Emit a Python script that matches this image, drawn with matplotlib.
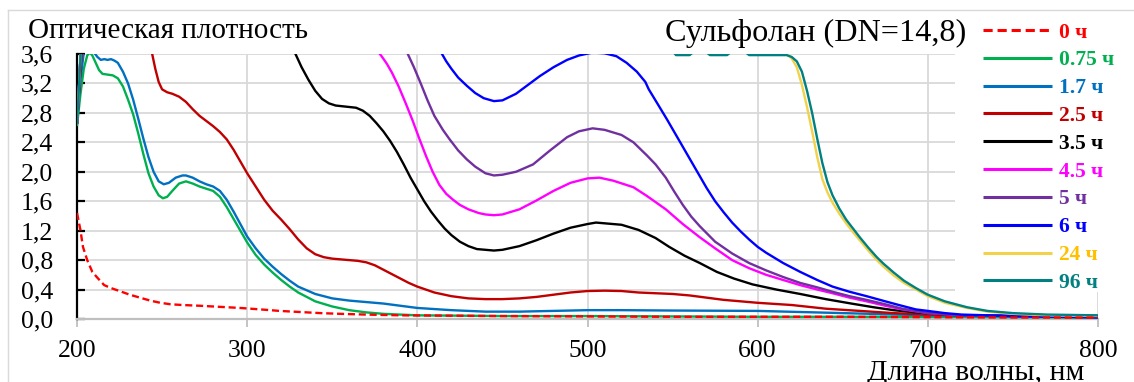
import matplotlib
matplotlib.use("Agg")
import matplotlib.pyplot as plt
from matplotlib.lines import Line2D
from matplotlib.patches import Rectangle

plt.rcParams['font.family'] = ['Liberation Serif', 'DejaVu Serif']

# ---------------- data ----------------
labels = ["0 ч", "0.75 ч", "1.7 ч", "2.5 ч", "3.5 ч", "4.5 ч", "5 ч", "6 ч", "24 ч", "96 ч"]
line_colors = ["#ff0000", "#00b050", "#0070c0", "#c00000", "#000000",
               "#ff00ff", "#7030a0", "#0000ff", "#f2d24a", "#008080"]
text_colors = ["#ff0000", "#00b050", "#0070c0", "#c00000", "#000000",
               "#ff00ff", "#7030a0", "#0000ff", "#ffc000", "#008080"]

x_0h = [200, 202, 203.5, 206, 209, 212, 216, 220, 225, 231, 237, 243, 249, 255, 262, 272,
        284, 296, 308, 319, 331, 343, 355, 370, 390, 420, 450, 500, 550, 600, 650, 700, 750, 800]
y_0h = [1.44, 1.21, 0.98, 0.80, 0.64, 0.56, 0.46, 0.42, 0.38, 0.33, 0.29, 0.25, 0.22, 0.20,
        0.19, 0.18, 0.165, 0.15, 0.13, 0.11, 0.095, 0.08, 0.07, 0.06, 0.05, 0.045, 0.04,
        0.035, 0.03, 0.03, 0.03, 0.025, 0.02, 0.02]

x_075h = [200, 202, 204, 206, 207.5, 209, 211, 213, 215, 218, 221, 224, 227, 230, 233, 236,
          239, 242, 245, 248, 250.5, 253, 256, 260, 264, 268, 272, 276, 280, 284, 288, 292,
          296, 300, 305, 310, 315, 320, 325, 330, 340, 350, 360, 370, 380, 390, 400, 450,
          500, 550, 600, 650, 700, 750, 800]
y_075h = [2.62, 3.05, 3.40, 3.58, 3.62, 3.58, 3.48, 3.38, 3.33, 3.32, 3.31, 3.27, 3.16, 2.98,
          2.78, 2.52, 2.24, 1.98, 1.80, 1.68, 1.64, 1.66, 1.74, 1.84, 1.87, 1.84, 1.80, 1.77,
          1.74, 1.66, 1.52, 1.36, 1.20, 1.04, 0.87, 0.74, 0.63, 0.53, 0.44, 0.36, 0.24, 0.17,
          0.12, 0.09, 0.07, 0.06, 0.05, 0.04, 0.04, 0.035, 0.03, 0.03, 0.03, 0.025, 0.02]

x_17h = [200, 202, 204, 206, 208, 210, 212, 214, 216, 218, 220, 222, 224, 227, 230, 233, 236,
         239, 242, 245, 248, 251, 254, 258, 262, 264, 268, 272, 276, 280, 284, 288, 292, 296,
         300, 305, 310, 315, 320, 325, 330, 340, 350, 360, 370, 380, 390, 400, 420, 440, 460,
         480, 500, 520, 550, 600, 650, 700, 750, 800]
y_17h = [2.65, 3.25, 3.62, 3.75, 3.72, 3.62, 3.56, 3.52, 3.53, 3.52, 3.53, 3.51, 3.48, 3.36,
         3.20, 2.98, 2.72, 2.45, 2.20, 2.00, 1.87, 1.83, 1.85, 1.92, 1.95, 1.95, 1.92, 1.87,
         1.83, 1.80, 1.74, 1.62, 1.46, 1.29, 1.12, 0.96, 0.82, 0.71, 0.61, 0.52, 0.44, 0.34,
         0.28, 0.25, 0.23, 0.21, 0.18, 0.15, 0.12, 0.10, 0.10, 0.11, 0.12, 0.12, 0.115, 0.11,
         0.08, 0.05, 0.045, 0.04]

x_25h = [200, 201, 202, 203, 204, 230, 244, 246, 248, 250, 253, 256, 260, 264, 268, 272, 276,
         280, 284, 288, 292, 296, 300, 305, 310, 315, 320, 325, 330, 335, 340, 345, 350, 355,
         360, 365, 370, 375, 380, 385, 390, 395, 400, 410, 420, 430, 440, 450, 460, 470, 480,
         490, 500, 510, 520, 530, 540, 550, 560, 570, 580, 590, 600, 620, 640, 660, 680, 700,
         720, 750, 800]
y_25h = [2.65, 3.0, 3.35, 3.7, 4.0, 4.3, 3.62, 3.40, 3.22, 3.12, 3.08, 3.06, 3.02, 2.95, 2.85,
         2.76, 2.69, 2.62, 2.54, 2.44, 2.30, 2.14, 1.98, 1.80, 1.62, 1.47, 1.35, 1.22, 1.08,
         0.96, 0.88, 0.84, 0.82, 0.81, 0.80, 0.79, 0.77, 0.73, 0.67, 0.61, 0.55, 0.49, 0.44,
         0.36, 0.31, 0.28, 0.27, 0.27, 0.28, 0.30, 0.33, 0.36, 0.38, 0.385, 0.38, 0.36, 0.35,
         0.34, 0.32, 0.29, 0.26, 0.24, 0.22, 0.19, 0.14, 0.11, 0.08, 0.06, 0.05, 0.04, 0.04]

x_35h = [200, 201.5, 203, 280, 328, 332, 336, 340, 344, 348, 352, 356, 360, 364, 368, 372, 376,
         380, 384, 388, 392, 396, 400, 404, 408, 412, 416, 420, 425, 430, 435, 440, 445, 450,
         460, 470, 480, 490, 500, 505, 510, 520, 530, 540, 548, 557, 566, 576, 586, 597, 611,
         625, 640, 655, 668, 680, 693, 705, 720, 750, 800]
y_35h = [2.65, 3.3, 4.0, 4.5, 3.62, 3.42, 3.25, 3.10, 2.99, 2.93, 2.90, 2.89, 2.88, 2.87, 2.83,
         2.76, 2.66, 2.55, 2.42, 2.27, 2.10, 1.92, 1.76, 1.60, 1.46, 1.34, 1.23, 1.14, 1.05,
         0.99, 0.95, 0.94, 0.93, 0.94, 0.99, 1.07, 1.16, 1.24, 1.29, 1.31, 1.30, 1.28, 1.21,
         1.10, 0.98, 0.86, 0.76, 0.64, 0.55, 0.47, 0.40, 0.34, 0.27, 0.21, 0.16, 0.12, 0.09,
         0.07, 0.05, 0.04, 0.03]

x_45h = [200, 201.5, 203, 300, 376, 379, 382, 385, 389, 393, 397, 401, 405, 409, 413, 417, 421,
         425, 430, 436, 440, 445, 450, 460, 470, 480, 490, 500, 507, 515, 527, 535, 546, 556,
         566, 575, 585, 595, 605, 615, 625, 635, 644, 654, 664, 675, 685, 700, 720, 750, 800]
y_45h = [2.65, 3.3, 4.0, 4.5, 3.66, 3.57, 3.47, 3.35, 3.16, 2.94, 2.71, 2.46, 2.22, 2.00, 1.82,
         1.70, 1.62, 1.55, 1.49, 1.44, 1.42, 1.41, 1.42, 1.49, 1.61, 1.74, 1.85, 1.91, 1.92,
         1.88, 1.79, 1.67, 1.49, 1.29, 1.11, 0.96, 0.80, 0.69, 0.60, 0.53, 0.46, 0.40, 0.35,
         0.29, 0.24, 0.18, 0.13, 0.08, 0.05, 0.04, 0.03]

x_5h = [200, 201.5, 203, 300, 394, 398, 402, 406, 410, 415, 419, 424, 429, 434, 440, 445, 450,
        458, 468, 478, 488, 495, 503, 510, 520, 527, 535, 540, 546, 551, 556, 561, 566, 575,
        585, 595, 605, 615, 625, 635, 644, 654, 664, 675, 685, 700, 720, 750, 800]
y_5h = [2.65, 3.3, 4.0, 4.5, 3.62, 3.42, 3.20, 2.97, 2.76, 2.57, 2.44, 2.29, 2.17, 2.07, 1.98,
        1.95, 1.96, 2.00, 2.10, 2.29, 2.47, 2.55, 2.59, 2.57, 2.50, 2.40, 2.22, 2.10, 1.92,
        1.73, 1.55, 1.39, 1.26, 1.05, 0.89, 0.76, 0.66, 0.57, 0.49, 0.43, 0.37, 0.31, 0.26,
        0.20, 0.14, 0.08, 0.05, 0.04, 0.03]

x_6h = [200, 201.5, 203, 300, 414, 417, 420, 424, 429, 434, 439, 445, 450, 458, 465, 472, 480,
        488, 495, 503, 510, 517, 523, 529, 534, 536, 541, 547, 553, 559, 565, 570, 575, 580,
        585, 590, 595, 600, 605, 610, 615, 625, 635, 644, 654, 664, 675, 683, 693, 700, 710,
        720, 750, 800]
y_6h = [2.65, 3.3, 4.0, 4.6, 3.62, 3.50, 3.40, 3.28, 3.17, 3.07, 3.00, 2.96, 2.97, 3.06, 3.18,
        3.30, 3.42, 3.52, 3.58, 3.62, 3.61, 3.57, 3.48, 3.36, 3.22, 3.12, 2.93, 2.70, 2.46,
        2.22, 1.98, 1.78, 1.60, 1.45, 1.31, 1.19, 1.08, 0.98, 0.90, 0.83, 0.76, 0.64, 0.53,
        0.44, 0.37, 0.31, 0.24, 0.19, 0.13, 0.11, 0.08, 0.06, 0.04, 0.02]

x_24h = [200, 201.5, 203, 400, 600, 612, 617, 620, 623, 626, 629, 632, 635, 638, 641, 644, 648,
         652, 656, 660, 665, 670, 674, 680, 686, 693, 700, 710, 723, 735, 750, 770, 800]
y_24h = [2.65, 3.3, 4.0, 5.0, 4.0, 3.68, 3.60, 3.54, 3.42, 3.18, 2.88, 2.55, 2.20, 1.90, 1.72,
         1.58, 1.43, 1.30, 1.18, 1.07, 0.93, 0.80, 0.71, 0.59, 0.49, 0.40, 0.31, 0.22, 0.15,
         0.10, 0.07, 0.05, 0.04]

x_96h = [200, 201.5, 203, 400, 548, 552, 560, 563, 569, 572, 582, 585, 592, 595, 617, 620, 623,
         626, 629, 632, 635, 638, 641, 644, 648, 652, 656, 660, 665, 670, 674, 680, 686, 693,
         700, 710, 723, 735, 750, 770, 800]
y_96h = [2.65, 3.3, 4.0, 5.0, 3.70, 3.585, 3.585, 3.64, 3.64, 3.585, 3.585, 3.64, 3.64, 3.585,
         3.585, 3.56, 3.50, 3.36, 3.10, 2.80, 2.45, 2.12, 1.86, 1.68, 1.50, 1.35, 1.23, 1.11,
         0.97, 0.84, 0.75, 0.63, 0.52, 0.42, 0.33, 0.24, 0.16, 0.11, 0.08, 0.06, 0.05]

series_x = [x_0h, x_075h, x_17h, x_25h, x_35h, x_45h, x_5h, x_6h, x_24h, x_96h]
series_y = [y_0h, y_075h, y_17h, y_25h, y_35h, y_45h, y_5h, y_6h, y_24h, y_96h]

x_ticks = [200, 300, 400, 500, 600, 700, 800]
y_ticks = [0.0, 0.4, 0.8, 1.2, 1.6, 2.0, 2.4, 2.8, 3.2, 3.6]
y_tick_labels = ["0,0", "0,4", "0,8", "1,2", "1,6", "2,0", "2,4", "2,8", "3,2", "3,6"]

# ---------------- figure ----------------
W, H = 1134, 382
fig = plt.figure(figsize=(W / 100, H / 100), dpi=100)
ax = fig.add_axes([77 / W, 1 - 319 / H, (1098 - 77) / W, (319 - 54) / H])

handles = []
for i in range(len(labels)):
    ls = (0, (3, 1.6)) if i == 0 else '-'
    z = 10 if i == 0 else 3 + i * 0.1
    h, = ax.plot(series_x[i], series_y[i], color=line_colors[i], lw=1.7,
                 linestyle=ls, zorder=z, solid_capstyle='butt', solid_joinstyle='round')
    handles.append(h)

ax.set_xlim(200, 800)
ax.set_ylim(0, 3.6)
ax.set_xticks(x_ticks)
ax.set_yticks(y_ticks)
ax.set_yticklabels(y_tick_labels)
ax.grid(True, color="#d9d9d9", lw=1.3, zorder=0)
ax.set_axisbelow(True)

for s in ['top', 'right']:
    ax.spines[s].set_visible(False)
ax.spines['left'].set_color('black')
ax.spines['left'].set_linewidth(1.6)
ax.spines['bottom'].set_color('#bfbfbf')
ax.spines['bottom'].set_linewidth(1.6)
ax.spines['left'].set_zorder(2)

ax.tick_params(axis='y', direction='in', length=6, width=1.6, color='black',
               labelsize=18.5, pad=17)
ax.tick_params(axis='x', direction='out', length=6, width=1.3, color='#bfbfbf',
               labelsize=18.5, pad=9)

# white legend area hiding the gridlines behind the legend
ax.add_patch(Rectangle((955 / W, 1 - 292 / H), (W - 955) / W, (292 - 14) / H,
                       transform=fig.transFigure, facecolor='white', edgecolor='none',
                       zorder=1, clip_on=False))

# texts
fig.text(28 / W, 1 - 38 / H, "Оптическая плотность", fontsize=21, va='baseline', ha='left')
fig.text(665 / W, 1 - 41 / H, "Сульфолан (DN=14,8)", fontsize=23.2, va='baseline', ha='left')
fig.text(867 / W, 1 - 380 / H, "Длина волны, нм", fontsize=21.5, va='baseline', ha='left')

# border of chart area
fig.add_artist(Line2D([8 / W, 8 / W], [0, 1 - 10 / H], color='#d9d9d9', lw=1.0,
                      transform=fig.transFigure))
fig.add_artist(Line2D([8 / W, 1], [1 - 10 / H, 1 - 10 / H], color='#d9d9d9', lw=1.0,
                      transform=fig.transFigure))

leg = ax.legend(handles, labels, loc='upper left',
                bbox_to_anchor=(977 / W, 1 - 16 / H), bbox_transform=fig.transFigure,
                frameon=False, prop={'weight': 'bold', 'size': 15.5},
                handlelength=3.2, handletextpad=0.33, labelspacing=0.36,
                borderpad=0.3, borderaxespad=0)
for t, c in zip(leg.get_texts(), text_colors):
    t.set_color(c)
for lh in leg.get_lines():
    lh.set_linewidth(2.2)

fig.savefig("out.png", dpi=100)
